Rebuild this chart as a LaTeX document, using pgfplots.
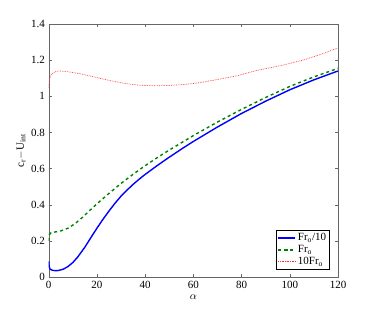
\documentclass[border=0pt]{standalone}
\usepackage{pgfplots}
\pgfplotsset{compat=1.18}
\usepackage{fontspec}
\setmainfont{Liberation Serif}
\begin{document}
\fontsize{11}{13}\selectfont
\begin{tikzpicture}[font=\fontsize{11}{13}\selectfont]
\begin{axis}[
  scale only axis, width=289.3pt, height=253pt,
  xmin=0, xmax=120, ymin=0, ymax=1.4,
  xtick={0,20,...,120}, ytick={0,0.2,...,1.4},
  yticklabels={0,0.2,0.4,0.6,0.8,1,1.2,1.4},
  tick align=inside, tick style={black!60},
  major tick length=3pt,
  axis line style={black!60},
  /pgf/number format/assume math mode=true,
  tick label style={font=\fontsize{11}{13}\selectfont},
  label style={font=\fontsize{11}{13}\selectfont},
  xlabel={$\alpha$}, ylabel={c$_{\mathrm{r}}$$-$U$_{\mathrm{int}}$},
  xlabel style={yshift=1pt}, ylabel style={yshift=-2pt},
  legend pos=south east,
  legend style={font=\fontsize{11}{13}\selectfont, draw=black, inner sep=1pt, row sep=-1pt, cells={anchor=west}},
  legend cell align=left,
]
\addplot[blue, line width=1.4pt] coordinates {
(0,0.087)(0.2,0.06)(0.5,0.045)(1,0.04)(2,0.036)(3,0.035)(4,0.036)(6,0.043)(8,0.058)(10,0.08)(12,0.11)(15,0.165)(17.5,0.218)(20,0.27)(22.5,0.319)(25,0.365)(27.5,0.408)(30,0.4475)(32.5,0.481)(35,0.5125)(37.5,0.541)(40,0.5675)(45,0.6165)(50,0.663)(55,0.7075)(60,0.75)(70,0.83)(80,0.905)(90,0.973)(100,1.036)(110,1.091)(120,1.14)};
\addlegendentry{Fr$_{\mathrm{o}}$/10}
\addplot[green!50!black, line width=1.4pt, dashed] coordinates {
(0,0.2)(0.3,0.235)(1,0.245)(5,0.255)(8,0.27)(11,0.296)(14,0.33)(17,0.368)(20,0.405)(25,0.4625)(30,0.5175)(35,0.5685)(40,0.616)(45,0.6605)(50,0.7025)(60,0.7825)(70,0.8575)(80,0.9275)(90,0.9935)(100,1.0545)(110,1.1075)(120,1.1545)};
\addlegendentry{Fr$_{\mathrm{o}}$}
\addplot[red!80, line width=0.7pt, densely dotted] coordinates {
(0,1.045)(0.3,1.09)(0.7,1.11)(1.5,1.125)(3,1.137)(4.5,1.14)(8,1.136)(13,1.125)(18,1.11)(22,1.097)(26,1.085)(30,1.075)(34,1.067)(38,1.061)(44,1.058)(50,1.06)(56,1.065)(62,1.074)(68,1.088)(78,1.113)(86,1.142)(97,1.172)(106,1.202)(114,1.237)(120,1.268)};
\addlegendentry{10Fr$_{\mathrm{o}}$}
\end{axis}
\path ([xshift=-48.7pt,yshift=-35pt]current axis.south west) rectangle ([xshift=36pt,yshift=24pt]current axis.north east);
\end{tikzpicture}
\end{document}
